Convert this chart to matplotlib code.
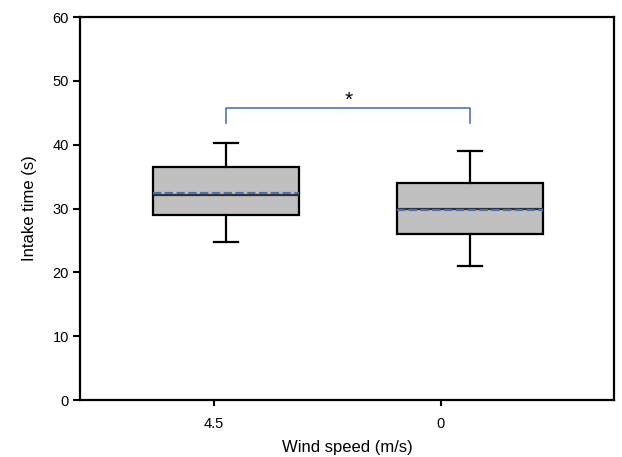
import matplotlib.pyplot as plt

plt.rcParams['font.family'] = ['Liberation Sans', 'DejaVu Sans']

# summary stats
groups = ['4.5', '0']
q1 = [29.0, 26.0]
med = [32.1, 29.9]
q3 = [36.5, 34.0]
mean = [32.4, 29.7]
wlo = [24.7, 21.0]
whi = [40.2, 39.0]

box_pos = [1, 2]
tick_pos = [0.95, 1.88]

stats = []
for i in range(len(groups)):
    stats.append(dict(label=groups[i], q1=q1[i], med=med[i], q3=q3[i],
                      mean=mean[i], whislo=wlo[i], whishi=whi[i], fliers=[]))

fig = plt.figure(figsize=(6.22, 4.57), dpi=100)
ax = fig.add_axes([0.1286, 0.1247, 0.8585, 0.8381])

ax.bxp(stats, positions=box_pos, widths=0.6, patch_artist=True,
       showmeans=True, meanline=True, manage_ticks=False,
       boxprops=dict(facecolor='#c0c0c0', edgecolor='black', linewidth=1.6),
       medianprops=dict(color='#303030', linewidth=1.6),
       meanprops=dict(color='#4a6fb5', linestyle='--', linewidth=1.6),
       whiskerprops=dict(color='black', linewidth=1.6),
       capprops=dict(color='black', linewidth=1.6),
       capwidths=0.1)

# significance bracket
ax.plot([box_pos[0], box_pos[0], box_pos[1], box_pos[1]],
        [43.4, 45.7, 45.7, 43.4], color='#4a76c0', linewidth=1.2)
ax.text(sum(box_pos) / 2, 47.0, '*', ha='center', va='center', fontsize=15)

ax.set_xlim(0.40, 2.59)
ax.set_ylim(0, 60)
ax.set_yticks(range(0, 61, 10))
ax.set_xticks(tick_pos)
ax.set_xticklabels(groups)
ax.tick_params(axis='both', direction='out', width=1.5, labelsize=10.5)
ax.tick_params(axis='y', length=5, pad=3)
ax.tick_params(axis='x', length=4, pad=8)
for s in ax.spines.values():
    s.set_linewidth(1.6)

ax.set_xlabel('Wind speed (m/s)', fontsize=12, labelpad=7)
ax.set_ylabel('Intake time (s)', fontsize=12, labelpad=11)

fig.savefig('out.png', dpi=100)
